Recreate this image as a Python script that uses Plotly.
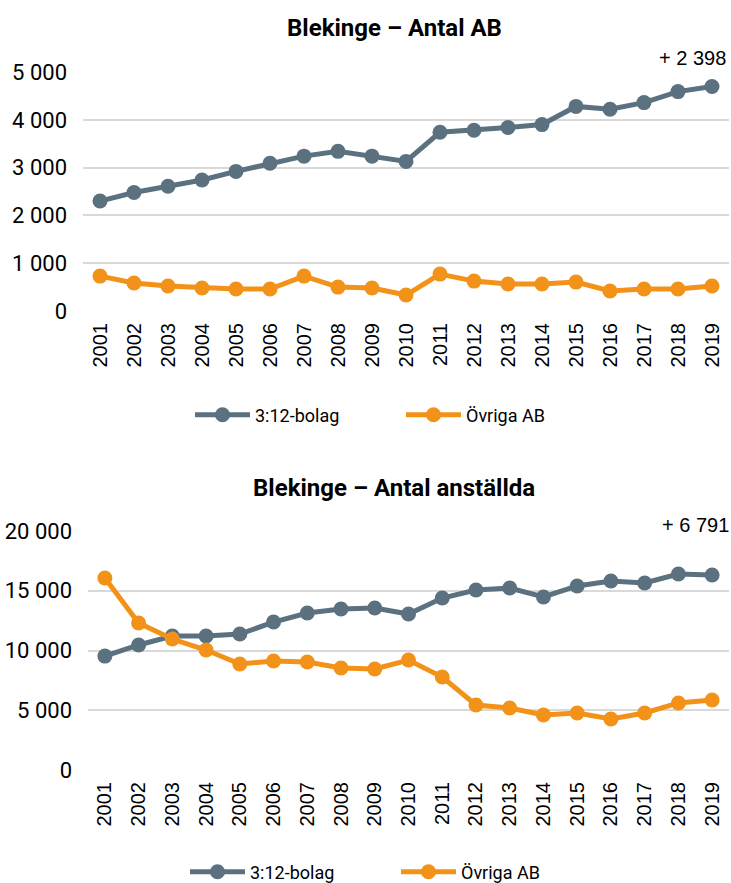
import plotly.graph_objects as go

years = [str(y) for y in range(2001, 2020)]

ab_312 = [2300, 2480, 2610, 2740, 2920, 3090, 3240, 3340, 3240, 3130,
          3740, 3780, 3840, 3900, 4280, 4220, 4360, 4590, 4698]
ab_ovriga = [730, 585, 522, 480, 460, 460, 730, 500, 480, 334,
             772, 626, 564, 564, 605, 418, 460, 460, 522]

anst_312 = [9530, 10460, 11210, 11210, 11380, 12380, 13140, 13470, 13560, 13050,
            14390, 15060, 15230, 14480, 15400, 15820, 15650, 16400, 16321]
anst_ovriga = [16070, 12300, 10960, 10040, 8870, 9120, 9040, 8540, 8450, 9200,
               7780, 5440, 5190, 4600, 4770, 4270, 4770, 5610, 5860]

titles = ["Blekinge – Antal AB", "Blekinge – Antal anställda"]
diff_labels = ["+ 2 398", "+ 6 791"]
series_names = ["3:12-bolag", "Övriga AB"]

GREY = "#5B7180"
ORANGE = "#F39218"
W, H = 731, 883

fig = go.Figure()

def add_pair(xa, ya, leg, v1, v2):
    for name, vals, col in [(series_names[0], v1, GREY), (series_names[1], v2, ORANGE)]:
        fig.add_trace(go.Scatter(
            x=years, y=vals, name=name, mode="lines+markers",
            line=dict(color=col, width=5),
            marker=dict(color=col, size=15),
            xaxis=xa, yaxis=ya, legend=leg,
        ))

add_pair("x", "y", "legend", ab_312, ab_ovriga)
add_pair("x2", "y2", "legend2", anst_312, anst_ovriga)

xcommon = dict(type="category", range=[-0.5, 18.5], showgrid=False, zeroline=False,
               showline=False, tickangle=-90, ticks="", automargin=False,
               tickfont=dict(family="Liberation Sans, Arial", size=20, color="#000"),
               ticklabelstandoff=7)
ycommon = dict(showgrid=True, gridcolor="#D9D9D9", gridwidth=2, zeroline=False,
               showline=False, ticks="", tickformat=",d", automargin=False,
               tickfont=dict(family="Roboto", size=22, color="#000"),
               ticklabelstandoff=15)

legcommon = dict(orientation="h", yanchor="middle", xanchor="left", itemwidth=55,
                 entrywidth=141,
                 font=dict(family="Roboto", size=18, color="#000"),
                 bgcolor="rgba(0,0,0,0)")

fig.update_layout(
    width=W, height=H,
    margin=dict(l=0, r=0, t=0, b=0, autoexpand=False),
    paper_bgcolor="white", plot_bgcolor="white",
    separators=", ",
    showlegend=True,
    xaxis=dict(domain=[83 / W, 729 / W], anchor="y", **xcommon),
    yaxis=dict(domain=[(H - 311) / H, (H - 72) / H], anchor="x",
               range=[0, 5000], dtick=1000, **ycommon),
    xaxis2=dict(domain=[88 / W, 729 / W], anchor="y2", **xcommon),
    yaxis2=dict(domain=[(H - 770) / H, (H - 531) / H], anchor="x2",
                range=[0, 20000], dtick=5000, **ycommon),
    legend=dict(x=190 / W, y=(H - 415) / H, **legcommon),
    legend2=dict(x=185 / W, y=(H - 872) / H, **legcommon),
)

fig.add_annotation(text="<b>" + titles[0] + "</b>", xref="paper", yref="paper",
                   x=394 / W, y=(H - 28) / H, xanchor="center", yanchor="middle",
                   showarrow=False,
                   font=dict(family="Roboto", size=24, color="#000"))
fig.add_annotation(text="<b>" + titles[1] + "</b>", xref="paper", yref="paper",
                   x=394 / W, y=(H - 488) / H, xanchor="center", yanchor="middle",
                   showarrow=False,
                   font=dict(family="Roboto", size=24, color="#000"))
fig.add_annotation(text=diff_labels[0], xref="paper", yref="paper",
                   x=728 / W, y=(H - 58) / H, xanchor="right", yanchor="middle",
                   showarrow=False,
                   font=dict(family="Liberation Sans, Arial", size=20, color="#000"))
fig.add_annotation(text=diff_labels[1], xref="paper", yref="paper",
                   x=731 / W, y=(H - 525) / H, xanchor="right", yanchor="middle",
                   showarrow=False,
                   font=dict(family="Liberation Sans, Arial", size=20, color="#000"))

fig.write_html("out.html", config={"displayModeBar": False},
               post_script="document.body.style.margin='0px';")
